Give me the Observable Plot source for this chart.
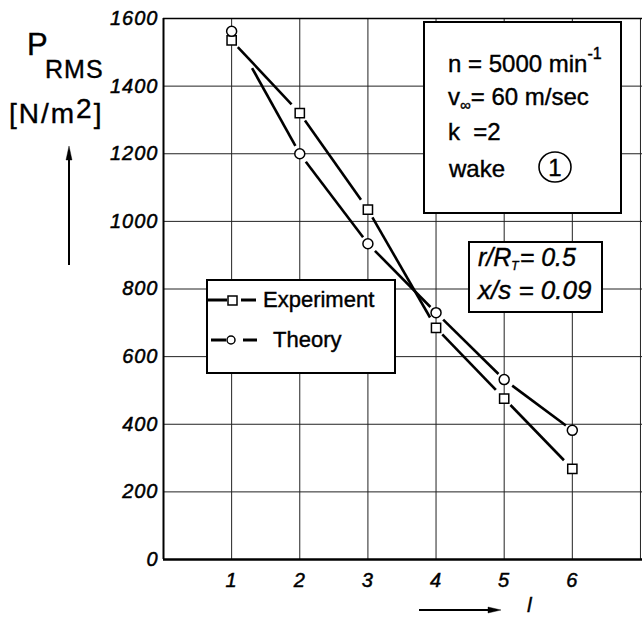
<!DOCTYPE html>
<html><head><meta charset="utf-8">
<script src="https://cdn.jsdelivr.net/npm/d3@7"></script>
<script src="https://cdn.jsdelivr.net/npm/@observablehq/plot@0.6"></script>
<style>
html,body{margin:0;padding:0;background:#fff;}
#chart svg{display:block;}
</style></head><body><div id="chart"></div>
<script>
// ---- data ----
const levels = [1, 2, 3, 4, 5, 6];
const experiment = [1535, 1320, 1035, 685, 476, 268];
const theory = [1562, 1200, 934, 730, 532, 382];
const yTicks = [0, 200, 400, 600, 800, 1000, 1200, 1400, 1600];
const xTicks = [1, 2, 3, 4, 5, 6];
const xGrid = [1, 2, 3, 4, 5, 6, 7];
const legendLabels = ["Experiment", "Theory"];

const expPts = levels.map((l, i) => ({l, p: experiment[i]}));
const thPts = levels.map((l, i) => ({l, p: theory[i]}));
const segs = pts => d3.pairs(pts).map(([a, b], i) => ({i, x1: a.l, y1: a.p, x2: b.l, y2: b.p}));
const expSegs = segs(expPts);
const thSegs = segs(thPts);

const FONT = "'Liberation Sans', Arimo, Arial, sans-serif";

const plot = Plot.plot({
  width: 642,
  height: 618,
  marginLeft: 163,
  marginRight: 0,
  marginTop: 18,
  marginBottom: 59,
  style: {fontFamily: FONT, fontSize: "20px", color: "#000", background: "#fff"},
  x: {domain: [0, 7.03], ticks: xTicks, tickFormat: d => String(d), tickSize: 0, tickPadding: 13, label: null},
  y: {domain: [0, 1600], ticks: yTicks, tickFormat: d => String(d), tickSize: 0, tickPadding: 5, label: null},
  marks: [
    Plot.ruleY(yTicks.filter(d => d > 0 && d < 1600), {stroke: "#222", strokeWidth: 1}),
    Plot.ruleX(xGrid, {stroke: "#222", strokeWidth: 1}),
    Plot.ruleY([1600], {stroke: "#000", strokeWidth: 1.6}),
    Plot.ruleY([0], {stroke: "#000", strokeWidth: 2.4}),
    Plot.ruleX([0], {stroke: "#000", strokeWidth: 2}),
    // experiment line segments (gaps at markers)
    Plot.arrow(expSegs, {x1: "x1", y1: "y1", x2: "x2", y2: "y2", headLength: 0,
      insetStart: 9, insetEnd: 12, stroke: "#000", strokeWidth: 2.6, strokeLinecap: "butt"}),
    // theory line segments
    Plot.arrow(thSegs.filter(d => d.i === 0), {x1: "x1", y1: "y1", x2: "x2", y2: "y2", headLength: 0,
      insetStart: 42, insetEnd: 9, stroke: "#000", strokeWidth: 2.6, strokeLinecap: "butt"}),
    Plot.arrow(thSegs.filter(d => d.i > 0), {x1: "x1", y1: "y1", x2: "x2", y2: "y2", headLength: 0,
      insetStart: 10, insetEnd: 8, stroke: "#000", strokeWidth: 2.6, strokeLinecap: "butt"}),
    Plot.dot(expPts, {x: "l", y: "p", symbol: "square", r: 5.2, fill: "#fff", stroke: "#000", strokeWidth: 1.5}),
    Plot.dot(thPts, {x: "l", y: "p", symbol: "circle", r: 5, fill: "#fff", stroke: "#000", strokeWidth: 1.5})
  ]
});

document.getElementById("chart").appendChild(plot);

const svg = d3.select(plot);
// axis tick labels: italic, heavier
svg.selectAll('[aria-label$="tick label"]')
  .attr("font-style", "italic")
  .selectAll("text").style("font-size", "20px").attr("font-style", "italic")
  .attr("letter-spacing", 1)
  .attr("stroke", "#000").attr("stroke-width", 0.5);

// ---- annotations ----
const g = svg.append("g").attr("font-family", FONT).attr("fill", "#000")
  .attr("text-anchor", "start").attr("font-style", "normal")
  .attr("stroke", "#000").attr("stroke-width", 0.4);

// Y label
const pl = g.append("text").attr("x", 27).attr("y", 55).attr("font-size", 31);
pl.append("tspan").text("P");
pl.append("tspan").attr("x", 45).attr("y", 78).attr("font-size", 25).attr("letter-spacing", 1).text("RMS");
const nm = g.append("text").attr("x", 9).attr("y", 123).attr("font-size", 28).attr("letter-spacing", 2);
nm.append("tspan").text("[N/m");
nm.append("tspan").attr("dy", -5).text("2");
nm.append("tspan").attr("dy", 5).text("]");
// up arrow
g.append("line").attr("x1", 69).attr("x2", 69).attr("y1", 265).attr("y2", 156)
  .attr("stroke", "#000").attr("stroke-width", 2);
g.append("path").attr("d", "M69,146 L72,160 L66,160 Z").attr("fill", "#000");

// X label with arrow
g.append("line").attr("x1", 419).attr("x2", 490).attr("y1", 610).attr("y2", 610)
  .attr("stroke", "#000").attr("stroke-width", 2);
g.append("path").attr("d", "M501,610 L488,607 L488,613 Z").attr("fill", "#000");
g.append("text").attr("x", 527).attr("y", 612).attr("font-size", 21).attr("font-style", "italic").text("l");

// parameter box
g.append("rect").attr("x", 424).attr("y", 22).attr("width", 197).attr("height", 191)
  .attr("fill", "#fff").attr("stroke", "#000").attr("stroke-width", 2);
const t1 = g.append("text").attr("x", 448).attr("y", 72).attr("font-size", 24);
t1.append("tspan").text("n = 5000 min");
t1.append("tspan").attr("dy", -13).attr("font-size", 16).text("-1");
const t2 = g.append("text").attr("x", 448).attr("y", 105).attr("font-size", 24);
t2.append("tspan").text("v");
t2.append("tspan").attr("dy", 5).attr("font-size", 15).text("\u221E");
t2.append("tspan").attr("dy", -5).text("= 60 m/sec");
g.append("text").attr("x", 448).attr("y", 140).attr("font-size", 24)
  .attr("xml:space", "preserve").style("white-space", "pre").text("k  =2");
g.append("text").attr("x", 449).attr("y", 177).attr("font-size", 24).text("wake");
g.append("ellipse").attr("cx", 555).attr("cy", 167).attr("rx", 16).attr("ry", 15)
  .attr("fill", "none").attr("stroke", "#000").attr("stroke-width", 1.6);
g.append("text").attr("x", 555).attr("y", 176).attr("font-size", 24).attr("text-anchor", "middle").text("1");

// location box
g.append("rect").attr("x", 469).attr("y", 242).attr("width", 133).attr("height", 70)
  .attr("fill", "#fff").attr("stroke", "#000").attr("stroke-width", 2);
const r1 = g.append("text").attr("x", 478).attr("y", 266).attr("font-size", 25).attr("font-style", "italic");
r1.append("tspan").text("r/R");
r1.append("tspan").attr("dy", 4).attr("font-size", 12).text("T");
r1.append("tspan").attr("dy", -4).attr("dx", 1).text("= 0.5");
g.append("text").attr("x", 478).attr("y", 299).attr("font-size", 26).attr("font-style", "italic")
  .attr("xml:space", "preserve").style("white-space", "pre").text("x/s = 0.09");

// legend box
g.append("rect").attr("x", 207).attr("y", 280).attr("width", 188).attr("height", 93)
  .attr("fill", "#fff").attr("stroke", "#000").attr("stroke-width", 2);
g.append("line").attr("x1", 207).attr("x2", 227).attr("y1", 300).attr("y2", 300).attr("stroke", "#000").attr("stroke-width", 3);
g.append("rect").attr("x", 228).attr("y", 296).attr("width", 9).attr("height", 9)
  .attr("fill", "#fff").attr("stroke", "#000").attr("stroke-width", 1.5);
g.append("line").attr("x1", 241).attr("x2", 256).attr("y1", 300).attr("y2", 300).attr("stroke", "#000").attr("stroke-width", 3);
g.append("text").attr("x", 263).attr("y", 307).attr("font-size", 22).text(legendLabels[0]);
g.append("line").attr("x1", 211).attr("x2", 226).attr("y1", 340).attr("y2", 340).attr("stroke", "#000").attr("stroke-width", 3);
g.append("circle").attr("cx", 231).attr("cy", 340).attr("r", 4)
  .attr("fill", "#fff").attr("stroke", "#000").attr("stroke-width", 1.5);
g.append("line").attr("x1", 243).attr("x2", 257).attr("y1", 340).attr("y2", 340).attr("stroke", "#000").attr("stroke-width", 3);
g.append("text").attr("x", 273).attr("y", 347).attr("font-size", 22).text(legendLabels[1]);
</script>
</body></html>
